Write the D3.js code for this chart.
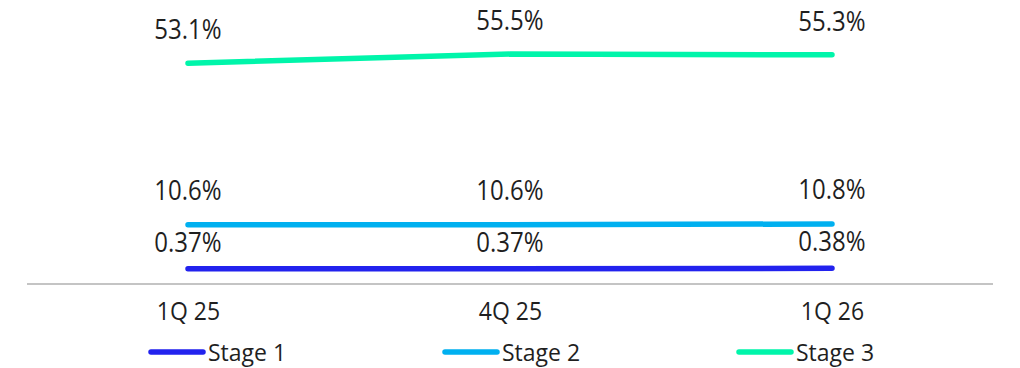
<!DOCTYPE html>
<html>
<head>
<meta charset="utf-8">
<script src="https://cdn.jsdelivr.net/npm/d3@7"></script>
<style>
  html, body { margin: 0; padding: 0; background: #fff; }
  svg { display: block; font-family: "Open Sans", "Noto Sans", sans-serif; }
</style>
</head>
<body>
<svg id="chart" width="1020" height="368"></svg>
<script>
// ---- data ----
const categories = ["1Q 25", "4Q 25", "1Q 26"];
const seriesNames = ["Stage 1", "Stage 2", "Stage 3"];
const stage1 = [0.37, 0.37, 0.38];
const stage2 = [10.6, 10.6, 10.8];
const stage3 = [53.1, 55.5, 55.3];
const labelsStage1 = ["0.37%", "0.37%", "0.38%"];
const labelsStage2 = ["10.6%", "10.6%", "10.8%"];
const labelsStage3 = ["53.1%", "55.5%", "55.3%"];
const colors = ["#2222EE", "#00B0F0", "#00F5AA"];

const series = [
  { name: seriesNames[0], values: stage1, labels: labelsStage1, color: colors[0], axis: "secondary", offset: 17 },
  { name: seriesNames[1], values: stage2, labels: labelsStage2, color: colors[1], axis: "primary", offset: 25 },
  { name: seriesNames[2], values: stage3, labels: labelsStage3, color: colors[2], axis: "primary", offset: 24 }
];

const svg = d3.select("#chart");
const plot = { left: 27, right: 993, top: 37, bottom: 284 };

const x = d3.scalePoint().domain(categories).range([plot.left, plot.right]).padding(0.5);
const yPrimary = d3.scaleLinear().domain([-5, 60]).range([plot.bottom, plot.top]);
const ySecondary = d3.scaleLinear().domain([0, 6]).range([plot.bottom, plot.top]);
const yFor = s => s.axis === "primary" ? yPrimary : ySecondary;

// category axis
const xAxis = d3.axisBottom(x).tickSize(0).tickPadding(0);
const gx = svg.append("g").attr("transform", `translate(0,${plot.bottom})`).call(xAxis);
gx.select(".domain").remove();
gx.append("line")
  .attr("x1", plot.left).attr("x2", plot.right)
  .attr("y1", 0).attr("y2", 0)
  .attr("stroke", "#C4C4C4").attr("stroke-width", 2);
gx.selectAll(".tick text")
  .attr("y", null).attr("dy", null)
  .attr("transform", "translate(0,36) scale(1,1.1)")
  .attr("fill", "#1f1f1f")
  .style("font-size", "23px")
  .style("font-family", "'Open Sans', 'Noto Sans', sans-serif");

// lines
const lineGen = s => d3.line()
  .x((d, i) => x(categories[i]))
  .y(d => yFor(s)(d));

series.forEach(s => {
  svg.append("path")
    .datum(s.values)
    .attr("d", lineGen(s))
    .attr("fill", "none")
    .attr("stroke", s.color)
    .attr("stroke-width", 5.5)
    .attr("stroke-linecap", "round")
    .attr("stroke-linejoin", "round");
});

// data labels
series.forEach(s => {
  svg.append("g").selectAll("text")
    .data(s.values)
    .join("text")
    .attr("transform", (d, i) =>
      `translate(${x(categories[i])},${yFor(s)(d) - s.offset}) scale(1,1.15)`)
    .attr("text-anchor", "middle")
    .attr("fill", "#1f1f1f")
    .style("font-size", "24px")
    .text((d, i) => s.labels[i]);
});

// legend
const legend = svg.append("g").attr("transform", "translate(149,352)");
const item = legend.selectAll("g")
  .data(series)
  .join("g")
  .attr("transform", (d, i) => `translate(${i * 294},0)`);
item.append("line")
  .attr("x1", 2).attr("x2", 54)
  .attr("y1", 0).attr("y2", 0)
  .attr("stroke", d => d.color)
  .attr("stroke-width", 5.5)
  .attr("stroke-linecap", "round");
item.append("text")
  .attr("transform", "translate(59,9) scale(1,1.05)")
  .attr("fill", "#1f1f1f")
  .style("font-size", "23px")
  .text(d => d.name);
</script>
</body>
</html>
